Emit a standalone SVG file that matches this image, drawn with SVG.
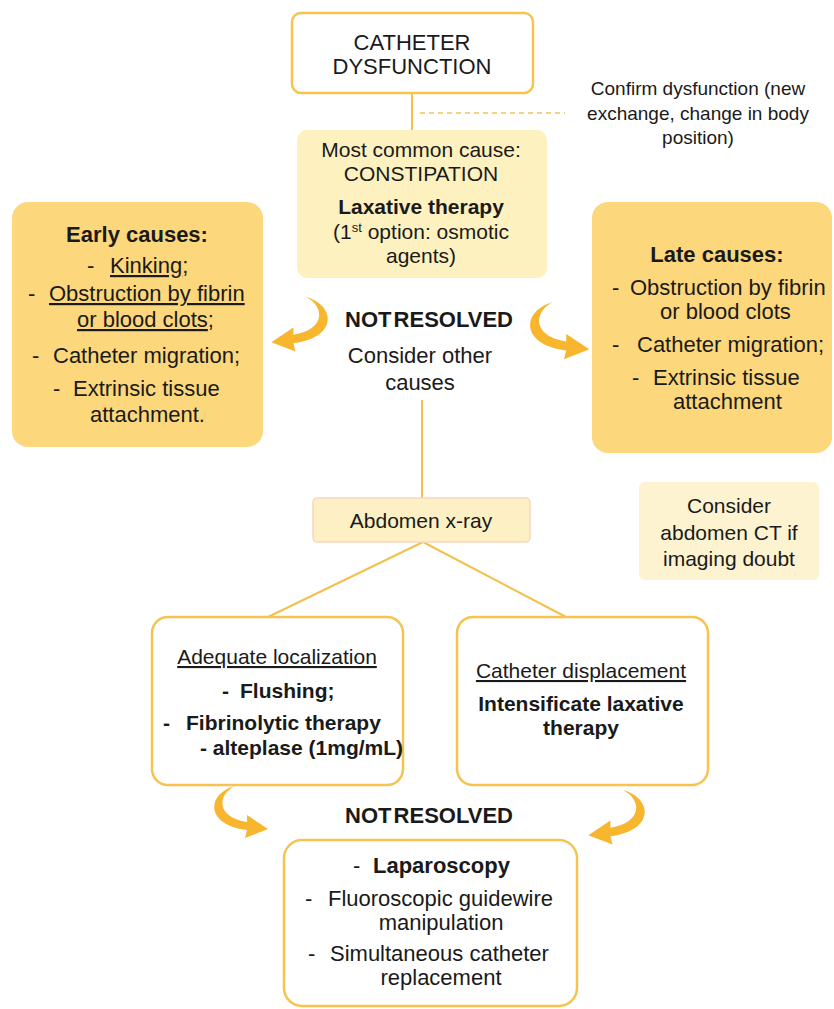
<svg xmlns="http://www.w3.org/2000/svg" xmlns:xlink="http://www.w3.org/1999/xlink" width="834" height="1009" viewBox="0 0 834 1009">
<style>
text{font-family:"Liberation Sans",Arial,sans-serif;fill:#1a1a1a;font-size:21px}
.b{font-weight:bold}
.m{text-anchor:middle}
.u{text-decoration:underline}
.f22{font-size:22px}
.line{stroke:#f5c04a;stroke-width:2;fill:none}
.dash{stroke:#f2c45a;stroke-width:1.5;stroke-dasharray:5 4;fill:none}
.white{fill:#ffffff;stroke:#f6c34f;stroke-width:2.5}
.pale{fill:#fdf1bf}
.gold{fill:#fcd77b}
.arrow{fill:#f8b62f}
</style>
<defs>
<path id="curvedArrow" d="M0,0 C-29,8 -30,39 12,44 L10,52 L33,43 L12,29 L12,36 C-19,31 -18,9 0,0 Z"/>
</defs>
<rect width="834" height="1009" fill="#ffffff"/>

<g id="connectors">
<line class="line" x1="412" y1="93" x2="412" y2="130"/>
<line class="dash" x1="420" y1="113" x2="565" y2="113"/>
<line class="line" x1="422" y1="400" x2="422" y2="498"/>
<line class="line" x1="423" y1="542" x2="268" y2="617"/>
<line class="line" x1="423" y1="542" x2="566" y2="617"/>
<use class="arrow" xlink:href="#curvedArrow" href="#curvedArrow" transform="translate(306,297) scale(-1.05,1.05)"/>
<use class="arrow" xlink:href="#curvedArrow" href="#curvedArrow" transform="translate(553,302) scale(1.1)"/>
<use class="arrow" xlink:href="#curvedArrow" href="#curvedArrow" transform="translate(235,786)"/>
<use class="arrow" xlink:href="#curvedArrow" href="#curvedArrow" transform="translate(623,790) scale(-1.05,1.05)"/>
</g>

<g id="dysfunction">
<rect class="white" x="292" y="13" width="241" height="80" rx="9"/>
<text class="m f22" x="412" y="50">CATHETER</text>
<text class="m f22" x="412" y="74">DYSFUNCTION</text>
</g>

<g id="confirm">
<text class="m" style="font-size:19px" x="698" y="95">Confirm dysfunction (new</text>
<text class="m" style="font-size:19px" x="698" y="120">exchange, change in body</text>
<text class="m" style="font-size:19px" x="698" y="144">position)</text>
</g>

<g id="constipation">
<rect class="pale" x="297" y="130" width="250" height="148" rx="10"/>
<text class="m" x="421" y="157">Most common cause:</text>
<text class="m" x="421" y="181">CONSTIPATION</text>
<text class="m b" x="421" y="214">Laxative therapy</text>
<text class="m" x="421" y="239">(1<tspan font-size="13" dy="-7">st</tspan><tspan dy="7"> option: osmotic</tspan></text>
<text class="m" x="421" y="263">agents)</text>
</g>

<g id="early">
<rect class="gold" x="12" y="202" width="251" height="245" rx="16"/>
<text class="m b f22" x="137" y="242">Early causes:</text>
<text class="f22" x="87" y="273">-</text>
<text class="f22" x="110" y="273"><tspan class="u">Kinking</tspan>;</text>
<text class="f22" x="28" y="301">-</text>
<text class="f22 u" x="49" y="301">Obstruction by fibrin</text>
<text class="f22" x="77" y="327"><tspan class="u">or blood clots</tspan>;</text>
<text class="f22" x="32" y="363">-</text>
<text class="f22" x="53" y="363">Catheter migration;</text>
<text class="f22" x="53" y="396">-</text>
<text class="f22" x="73" y="396">Extrinsic tissue</text>
<text class="f22" x="90" y="422">attachment.</text>
</g>

<g id="not-resolved-1">
<text class="m b f22" x="429" y="327" word-spacing="-4">NOT RESOLVED</text>
<text class="m f22" x="420" y="363">Consider other</text>
<text class="m f22" x="420" y="390">causes</text>
</g>

<g id="late">
<rect class="gold" x="592" y="202" width="240" height="251" rx="16"/>
<text class="m b f22" x="717" y="262">Late causes:</text>
<text class="f22" x="612" y="295">-</text>
<text class="f22" x="630" y="295">Obstruction by fibrin</text>
<text class="f22" x="660" y="319">or blood clots</text>
<text class="f22" x="612" y="352">-</text>
<text class="f22" x="637" y="352">Catheter migration;</text>
<text class="f22" x="632" y="385">-</text>
<text class="f22" x="653" y="385">Extrinsic tissue</text>
<text class="f22" x="673" y="409">attachment</text>
</g>

<g id="xray">
<rect x="313" y="498" width="217" height="44" rx="4" fill="#fdf0c4" stroke="#f8d6c0" stroke-width="1.5"/>
<text class="m" x="421" y="528">Abdomen x-ray</text>
</g>

<g id="ct">
<rect x="639" y="482" width="180" height="98" rx="6" fill="#fdf3d0"/>
<text class="m" x="729" y="513">Consider</text>
<text class="m" x="729" y="540">abdomen CT if</text>
<text class="m" x="729" y="566">imaging doubt</text>
</g>

<g id="adequate">
<rect class="white" x="152" y="617" width="251" height="168" rx="16"/>
<text class="m u" x="277" y="664">Adequate localization</text>
<text class="b" x="222" y="698">-</text>
<text class="b" x="240" y="698">Flushing;</text>
<text class="b" x="163" y="730">-</text>
<text class="b" x="186" y="730">Fibrinolytic therapy</text>
<text class="b" x="200" y="755">- alteplase (1mg/mL)</text>
</g>

<g id="displacement">
<rect class="white" x="457" y="617" width="251" height="168" rx="16"/>
<text class="m u" x="581" y="678">Catheter displacement</text>
<text class="m b" x="581" y="711">Intensificate laxative</text>
<text class="m b" x="581" y="735">therapy</text>
</g>

<g id="not-resolved-2">
<text class="m b f22" x="429" y="823" word-spacing="-4">NOT RESOLVED</text>
</g>

<g id="laparoscopy">
<rect class="white" x="284" y="840" width="293" height="166" rx="18"/>
<text class="f22" x="353" y="873">-</text>
<text class="b f22" x="373" y="873">Laparoscopy</text>
<text class="f22" x="305" y="906">-</text>
<text class="f22" x="328" y="906">Fluoroscopic guidewire</text>
<text class="m f22" x="441" y="930">manipulation</text>
<text class="f22" x="308" y="961">-</text>
<text class="f22" x="330" y="961">Simultaneous catheter</text>
<text class="m f22" x="441" y="985">replacement</text>
</g>
</svg>
